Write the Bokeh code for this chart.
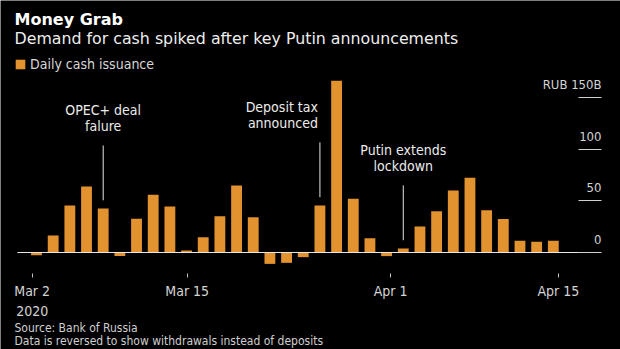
from bokeh.plotting import figure
from bokeh.models import (Range1d, LinearAxis, FixedTicker, CustomJSTickFormatter, Label,
                          Legend, LegendItem, ColumnDataSource)
from bokeh.core.properties import value
from bokeh.embed import file_html
from bokeh.resources import INLINE

# ---------------- data ----------------
cash_issuance = [-2.6, 16.4, 45.5, 63.8, 42.5, -3.5, 32.6, 55.8, 44.5, 2.0, 14.8, 35.1,
                 64.8, 34.2, -11.0, -10.0, -4.5, 45.5, 166.0, 51.9, 13.9, -3.5, 3.9, 25.1,
                 40.0, 60.0, 72.2, 40.8, 32.5, 11.3, 10.3, 11.3]
bar_index = list(range(len(cash_issuance)))
date_tick_labels = ["Mar 2\n2020", "Mar 15", "Apr 1", "Apr 15"]
date_tick_positions = [-0.26, 9.04, 21.24, 31.30]
value_ticks = [0, 50, 100, 150]
value_tick_labels = ["0", "50", "100", "RUB 150B"]
event_bars = [4, 17, 22]
event_texts = ["OPEC+ deal\nfalure", "Deposit tax\nannounced", "Putin extends\nlockdown"]
event_align = ["center", "right", "center"]

# ---------------- styling ----------------
BAR = "#E39230"
COND = "DejaVu Sans Condensed"
SANS = "DejaVu Sans"
W, H = 620, 349

# the plot frame covers the whole canvas; axes are pinned inside it
p = figure(width=W, height=H, output_backend="svg", toolbar_location=None,
           x_range=Range1d(-2.16, 35.03), y_range=Range1d(-93.8, 243.7),
           x_axis_location=None, y_axis_location=None,
           min_border=0, min_border_left=0, min_border_right=0,
           min_border_top=0, min_border_bottom=0,
           background_fill_color="black", border_fill_color="black",
           outline_line_color=None)
p.grid.visible = False

AXIS_Y = -20.3      # where the date axis sits (below the negative bars)
AXIS_X = 33.89      # right edge of the value tick marks

# bottom (date) axis
xa = LinearAxis(fixed_location=AXIS_Y,
                ticker=FixedTicker(ticks=date_tick_positions),
                formatter=CustomJSTickFormatter(args=dict(labels=date_tick_labels),
                                                code="return labels[index];"),
                axis_line_color=None, major_tick_out=4, major_tick_in=0,
                major_tick_line_color="#bdbdbd", minor_tick_line_color=None,
                major_label_text_color="#d4d4d4", major_label_text_font=COND,
                major_label_text_font_size="14px", major_label_standoff=6)
p.add_layout(xa, "below")

# right axis: tick marks only
ya = LinearAxis(fixed_location=AXIS_X, ticker=FixedTicker(ticks=value_ticks),
                formatter=CustomJSTickFormatter(code="return '';"),
                major_tick_in=23, major_tick_out=0, minor_tick_line_color=None,
                axis_line_color=None, major_tick_line_color="#d0d0d0",
                major_label_text_font_size="0px", major_label_standoff=0)
p.add_layout(ya, "right")

# value tick labels (right aligned, above tick marks)
p.text(x=[AXIS_X] * len(value_ticks), y=value_ticks, text=value_tick_labels,
       text_align="right", text_baseline="alphabetic", y_offset=-13,
       text_color="#d4d4d4", text_font=value(COND), text_font_size="13px")

# bars
src = ColumnDataSource(dict(x=bar_index, v=cash_issuance))
bars = p.vbar(x="x", top="v", width=0.65, source=src, fill_color=BAR, line_color=None)

# zero baseline
p.segment(x0=[bar_index[0] - 1.15], y0=[0], x1=[bar_index[-1] + 1.53], y1=[0],
          line_color="#e6e6e6", line_width=1)

# event markers
ev_vals = [cash_issuance[i] for i in event_bars]
p.segment(x0=event_bars, y0=[v + 8 for v in ev_vals], x1=event_bars,
          y1=[v + 61 for v in ev_vals], line_color="#e6e6e6", line_width=1)
for al in ("center", "right"):
    idx = [k for k, a in enumerate(event_align) if a == al]
    esrc = ColumnDataSource(dict(x=[event_bars[k] for k in idx],
                                 y=[ev_vals[k] + 61 for k in idx],
                                 t=[event_texts[k] for k in idx]))
    p.text(x="x", y="y", text="t", source=esrc, text_align=al, text_baseline="bottom",
           x_offset=-2 if al == "right" else 0, y_offset=-11,
           text_color="#ececec", text_font=value(COND), text_font_size="14px",
           text_line_height=1.05)

# legend
legend = Legend(items=[LegendItem(label="Daily cash issuance", renderers=[bars])],
                location=(14, H - 56 - 16), margin=0, padding=0, spacing=0,
                glyph_width=12, glyph_height=12, label_height=12, label_standoff=4,
                background_fill_alpha=0, border_line_color=None,
                label_text_color="#d8d8d8", label_text_font=COND,
                label_text_font_size="14px")
p.add_layout(legend)

# titles & footer (screen units: from the canvas bottom-left)
def note(text, baseline_px, font, size, color, bold=False):
    p.add_layout(Label(x=14, y=H - baseline_px, x_units="screen", y_units="screen",
                       text=text, text_font=font, text_font_size=size,
                       text_font_style="bold" if bold else "normal",
                       text_color=color, text_baseline="alphabetic"))

note("Money Grab", 18.5, SANS, "16px", "#ffffff", bold=True)
note("Demand for cash spiked after key Putin announcements", 37.5, SANS, "15.8px", "#eeeeee")
note("Source: Bank of Russia", 327, COND, "12px", "#cfcfcf")
note("Data is reversed to show withdrawals instead of deposits", 340.5, COND, "12px", "#cfcfcf")

open("out.html", "w").write(file_html(p, INLINE))
